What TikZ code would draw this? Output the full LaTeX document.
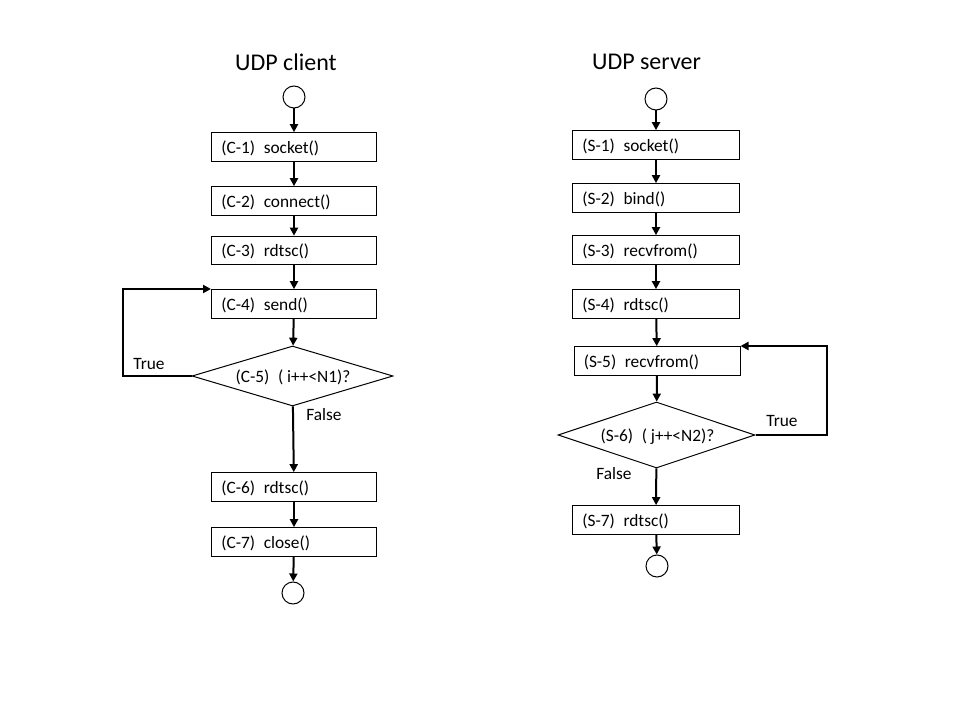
\documentclass[tikz,border=0pt]{standalone}
\usepackage{fontspec}
\setmainfont{Carlito}
\usetikzlibrary{shapes.geometric,arrows.meta}
\begin{document}
\begin{tikzpicture}[x=0.75pt,y=-0.75pt,
  box/.style={draw,line width=0.75pt,minimum width=123.75pt,minimum height=21.5pt,inner sep=0pt},
  dia/.style={draw,line width=0.75pt,diamond,aspect=3.3,inner sep=0pt},
  term/.style={draw,line width=0.75pt,circle,minimum size=16.5pt,inner sep=0pt},
  flow/.style={line width=1.5pt,-{Triangle[length=6pt,width=6pt]}},
  lbl/.style={font=\fontsize{13}{15}\selectfont},
  inlbl/.style={lbl,anchor=west,inner xsep=7.5pt,yshift=-1pt},
  ttl/.style={font=\fontsize{18}{22}\selectfont}]
\useasboundingbox (0,0) rectangle (960,720);
% titles
\node[ttl] (tc) at (286,62) {UDP client};
\node[ttl] (ts) at (646.5,62) {UDP server};
% client
\node[term] (c0) at (294,97) {};
\node[box] (c1) at (294,147) {};
\node[inlbl] at (c1.west) {(C-1)\hspace{0.5em}socket()};
\node[box] (c2) at (294,201) {};
\node[inlbl] at (c2.west) {(C-2)\hspace{0.5em}connect()};
\node[box] (c3) at (294,250.5) {};
\node[inlbl] at (c3.west) {(C-3)\hspace{0.5em}rdtsc()};
\node[box] (c4) at (294,304) {};
\node[inlbl] at (c4.west) {(C-4)\hspace{0.5em}send()};
\node[dia,minimum width=150.75pt,minimum height=45pt] (c5) at (292.5,376) {};
\node[lbl,yshift=-1pt] at (293,376) {(C-5)\hspace{0.5em}( i++<N1)?};
\node[box] (c6) at (294,487) {};
\node[inlbl] at (c6.west) {(C-6)\hspace{0.5em}rdtsc()};
\node[box] (c7) at (294,542) {};
\node[inlbl] at (c7.west) {(C-7)\hspace{0.5em}close()};
\node[term] (c8) at (293,593) {};
\draw[flow] (c0) -- (c1);
\draw[flow] (c1) -- (c2);
\draw[flow] (c2) -- (c3);
\draw[flow] (c3) -- (c4);
\draw[flow] (c4) -- (c5);
\draw[flow] (c5) -- (c6);
\draw[flow] (c6) -- (c7);
\draw[flow] (c7) -- (c8);
\coordinate (cl) at (123,289);
\draw[flow] (c5.west) -| (cl) -- (c4.north west |- cl);
\node[lbl] at (149,364) {True};
\node[lbl] at (324,415) {False};
% server
\node[term] (s0) at (656,99) {};
\node[box,minimum width=125pt] (s1) at (656,145) {};
\node[inlbl] at (s1.west) {(S-1)\hspace{0.5em}socket()};
\node[box,minimum width=125pt] (s2) at (656,198) {};
\node[inlbl] at (s2.west) {(S-2)\hspace{0.5em}bind()};
\node[box,minimum width=125pt] (s3) at (656,250) {};
\node[inlbl] at (s3.west) {(S-3)\hspace{0.5em}recvfrom()};
\node[box,minimum width=125pt] (s4) at (656,304) {};
\node[inlbl] at (s4.west) {(S-4)\hspace{0.5em}rdtsc()};
\node[box,minimum width=124.5pt] (s5) at (657,361) {};
\node[inlbl] at (s5.west) {(S-5)\hspace{0.5em}recvfrom()};
\node[dia,minimum width=147.75pt,minimum height=49.5pt] (s6) at (656.5,435) {};
\node[lbl,yshift=-1pt] at (657.5,435) {(S-6)\hspace{0.5em}( j++<N2)?};
\node[box,minimum width=125pt] (s7) at (656,520) {};
\node[inlbl] at (s7.west) {(S-7)\hspace{0.5em}rdtsc()};
\node[term] (s8) at (657,566) {};
\draw[flow] (s0) -- (s1);
\draw[flow] (s1) -- (s2);
\draw[flow] (s2) -- (s3);
\draw[flow] (s3) -- (s4);
\draw[flow] (s4) -- (s5);
\draw[flow] (s5) -- (s6);
\draw[flow] (s6) -- (s7);
\draw[flow] (s7) -- (s8);
\coordinate (sr) at (827,346);
\draw[flow] (s6.east) -| (sr) -- (s5.north east |- sr);
\node[lbl] at (782,421) {True};
\node[lbl] at (614,474) {False};
\end{tikzpicture}
\end{document}
